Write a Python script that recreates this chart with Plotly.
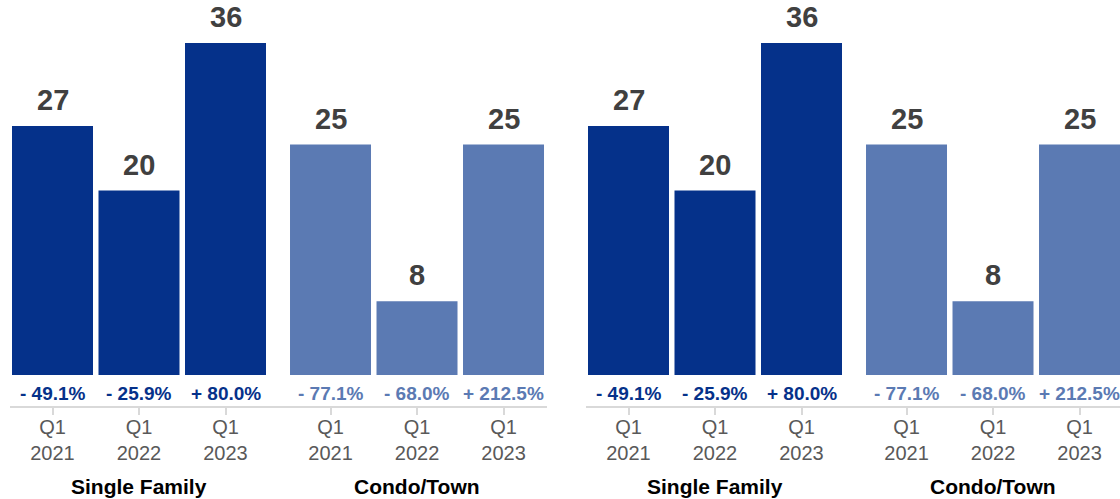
import plotly.graph_objects as go

# Q1 closed sales by property type, with year-over-year change
groups = ["Single Family", "Condo/Town"]
periods = ["Q1<br>2021", "Q1<br>2022", "Q1<br>2023"]
single_family = [27, 20, 36]
condo_town = [25, 8, 25]
single_family_pct = ["- 49.1%", "- 25.9%", "+ 80.0%"]
condo_town_pct = ["- 77.1%", "- 68.0%", "+ 212.5%"]

DARK = "#05318A"
LIGHT = "#5B7AB3"
FONT = "Liberation Sans, Arial, sans-serif"

W, H = 1120, 499
PITCH = 86.5          # px per bar slot
GROUP_OFFSET = 3.214  # position of first bar in second group
BAR_W = 81 / PITCH

pos_sf = [0, 1, 2]
pos_ct = [GROUP_OFFSET + i for i in range(3)]

# vertical scale: value 0 at y=375px, axis line at y=406px, top of page at 0
PX_PER_UNIT = 9.22
y_top = 375 / PX_PER_UNIT
y_bot = -(406 - 375) / PX_PER_UNIT
y_domain = [(H - 406) / H, 1.0]

panels = [
    {"left": 10, "right": 547},
    {"left": 586, "right": W},
]

fig = go.Figure()
annotations = []
layout = {}

for i, p in enumerate(panels, start=1):
    xa = "x" if i == 1 else f"x{i}"
    ya = "y" if i == 1 else f"y{i}"
    lo = -(42.5) / PITCH
    hi = lo + (p["right"] - p["left"]) / PITCH

    for vals, pos, color, pcts in [
        (single_family, pos_sf, DARK, single_family_pct),
        (condo_town, pos_ct, LIGHT, condo_town_pct),
    ]:
        fig.add_trace(go.Bar(
            x=pos, y=vals, width=BAR_W, marker=dict(color=color, line=dict(width=0)),
            xaxis=xa, yaxis=ya, showlegend=False, hoverinfo="skip",
        ))
        for xv, v, pct in zip(pos, vals, pcts):
            annotations.append(dict(
                x=xv, y=v, xref=xa, yref=ya, text=str(v), showarrow=False,
                yanchor="bottom", yshift=8,
                font=dict(family=FONT, size=29, color="#404040", weight="bold"),
            ))
            annotations.append(dict(
                x=xv, y=0, xref=xa, yref=ya, text=pct, showarrow=False,
                yanchor="middle", yshift=-18,
                font=dict(family=FONT, size=19, color=color, weight="bold"),
            ))

    for gname, gpos in zip(groups, [pos_sf, pos_ct]):
        annotations.append(dict(
            x=gpos[1], y=(H - 486) / H, xref=xa, yref="paper", text=gname,
            showarrow=False, yanchor="middle",
            font=dict(family=FONT, size=21, color="#000000", weight="bold"),
        ))

    key_x = "xaxis" if i == 1 else f"xaxis{i}"
    key_y = "yaxis" if i == 1 else f"yaxis{i}"
    layout[key_x] = dict(
        domain=[p["left"] / W, min(p["right"] / W, 1.0)],
        range=[lo, hi], anchor=ya,
        tickmode="array", tickvals=pos_sf + pos_ct, ticktext=periods + periods,
        showline=True, linecolor="#D9D9D9", linewidth=2,
        ticks="outside", ticklen=7, tickwidth=2, tickcolor="#D9D9D9",
        ticklabelstandoff=-5,
        showgrid=False, zeroline=False, fixedrange=True,
        tickfont=dict(family=FONT, size=20, color="#595959"),
    )
    layout[key_y] = dict(
        domain=y_domain, range=[y_bot, y_top], anchor=xa,
        visible=False, showgrid=False, zeroline=False, fixedrange=True,
    )

fig.update_layout(
    width=W, height=H,
    margin=dict(l=0, r=0, t=0, b=0),
    paper_bgcolor="white", plot_bgcolor="white",
    barmode="overlay",
    annotations=annotations,
    **layout,
)

fig.write_html("out.html", config={"displayModeBar": False})
